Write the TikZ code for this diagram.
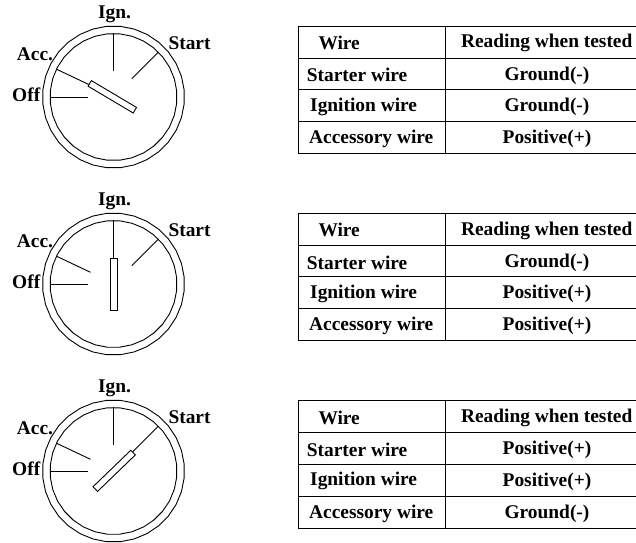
\documentclass[tikz,border=0pt]{standalone}
\usepackage{fontspec}
\setmainfont{Liberation Serif}
\usepackage{tikz}
\usetikzlibrary{shapes, shapes.geometric}
\tikzstyle{label} = [font=\fontsize{19.4}{22}\selectfont\bfseries, inner sep=0pt, anchor=base]
\tikzstyle{wirelabel} = [label, anchor=base west]
\tikzstyle{rim} = [regular polygon, regular polygon sides=32, draw, line width=0.9pt, inner sep=0pt]
\tikzstyle{handle} = [rectangle, draw, fill=white, line width=0.9pt, minimum width=52.5pt, minimum height=6.5pt, inner sep=0pt]
\tikzstyle{line} = [draw, line width=0.9pt]

% #1 name, #2 centre y, #3 handle angle, #4 handle offset
\newcommand{\switchdial}[4]{
    \begin{scope}[shift={(113.5,#2)}]
        % Nodes
        \node [rim, minimum size=142pt] (#1outer) at (0,0) {};
        \node [rim, minimum size=127pt] (#1inner) at (0,0) {};
        \coordinate (#1off) at (-26,0);
        \coordinate (#1acc) at (-23,-11.7);
        \coordinate (#1ign) at (0,-26);
        \coordinate (#1start) at (18.4,-18.3);
        \node [label, anchor=base] (#1ignlabel) at (1,-78.7) {Ign.};
        \node [wirelabel] (#1startlabel) at (54.8,-47.7) {Start};
        \node [wirelabel] (#1acclabel) at (-96.8,-37) {Acc.};
        \node [wirelabel] (#1offlabel) at (-101.5,4.7) {Off};
        % Edges
        \path [line] (#1inner.180) -- (#1off);
        \path [line] (#1inner.154) -- (#1acc);
        \path [line] (#1inner.90) -- (#1ign);
        \path [line] (#1inner.45) -- (#1start);
        \node [handle, rotate=#3] (#1handle) at #4 {};
    \end{scope}
}

% #1 name, #2 top y, #3 #4 #5 readings
\newcommand{\readingtable}[5]{
    \begin{scope}[shift={(0,#2)}]
        % Nodes
        \coordinate (#1nw) at (298.5,0);
        \coordinate (#1ne) at (636,0);
        \coordinate (#1sw) at (298.5,127.3);
        \coordinate (#1se) at (636,127.3);
        \coordinate (#1top) at (445,0);
        \coordinate (#1bottom) at (445,127.3);
        \coordinate (#1a) at (298.5,32);
        \coordinate (#1b) at (636,32);
        \coordinate (#1c) at (298.5,63.6);
        \coordinate (#1d) at (636,63.6);
        \coordinate (#1e) at (298.5,95.6);
        \coordinate (#1f) at (636,95.6);
        \node [wirelabel] (#1wire) at (318.3,23.3) {Wire};
        \node [label] (#1reading) at (546.7,21.7) {Reading when tested};
        \node [wirelabel] (#1starter) at (306.7,55.7) {Starter wire};
        \node [label] (#1first) at (547,54.2) {#3};
        \node [wirelabel] (#1ignition) at (310,85.2) {Ignition wire};
        \node [label] (#1second) at (547,85.6) {#4};
        \node [wirelabel] (#1accessory) at (309,117.3) {Accessory wire};
        \node [label] (#1third) at (547,117.3) {#5};
        % Edges
        \path [line] (#1ne) -- (#1nw) -- (#1sw) -- (#1se);
        \path [line] (#1top) -- (#1bottom);
        \path [line] (#1a) -- (#1b);
        \path [line] (#1c) -- (#1d);
        \path [line] (#1e) -- (#1f);
    \end{scope}
}

\begin{document}
\begin{tikzpicture}[x=1pt, y=-1pt]
    \useasboundingbox (0,0) rectangle (636,542);
    % Dials
    \switchdial{acc}{97}{-30.7}{(-1.2,-0.2)}
    \switchdial{ign}{284}{90}{(0.2,0.2)}
    \switchdial{start}{471}{44}{(0.7,-0.2)}
    % Tables
    \readingtable{upper}{26}{Ground(-)}{Ground(-)}{Positive(+)}
    \readingtable{middle}{213.3}{Ground(-)}{Positive(+)}{Positive(+)}
    \readingtable{lower}{400.7}{Positive(+)}{Positive(+)}{Ground(-)}
\end{tikzpicture}
\end{document}
